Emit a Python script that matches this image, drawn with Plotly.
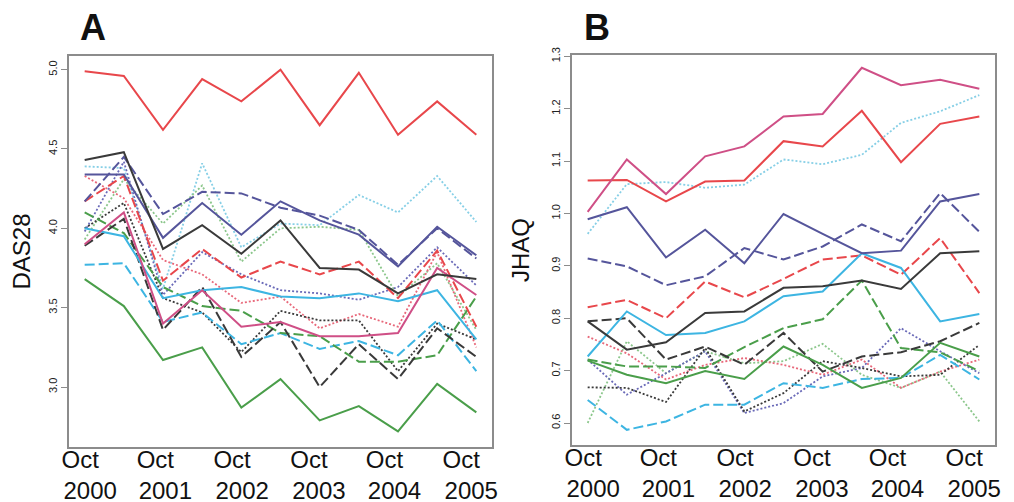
import plotly.graph_objects as go

# ---------------- data ----------------
time_points = list(range(11))  # half-year visits, Oct 2000 .. Oct 2005
tick_positions = [0.14, 2.06, 4.02, 5.98, 7.91, 9.87]
tick_labels = ["Oct&nbsp;&nbsp;&nbsp;<br>2000", "Oct&nbsp;&nbsp;&nbsp;<br>2001", "Oct&nbsp;&nbsp;&nbsp;<br>2002",
               "Oct&nbsp;&nbsp;&nbsp;<br>2003", "Oct&nbsp;&nbsp;&nbsp;<br>2004", "Oct&nbsp;&nbsp;&nbsp;<br>2005"]
das_ticks = [3.0, 3.5, 4.0, 4.5, 5.0]
jhaq_ticks = [0.6, 0.7, 0.8, 0.9, 1.0, 1.1, 1.2, 1.3]

# Panel A: DAS28
das_red_solid = [4.99, 4.96, 4.62, 4.94, 4.80, 5.00, 4.65, 4.98, 4.59, 4.80, 4.59]
das_green_solid = [3.68, 3.51, 3.17, 3.25, 2.87, 3.05, 2.79, 2.88, 2.72, 3.02, 2.84]
das_black_solid = [4.43, 4.48, 3.87, 4.02, 3.84, 4.05, 3.75, 3.74, 3.59, 3.71, 3.68]
das_navy_solid = [4.34, 4.34, 3.94, 4.16, 3.96, 4.17, 4.05, 3.96, 3.76, 4.01, 3.83]
das_navy_dash = [4.17, 4.45, 4.09, 4.23, 4.22, 4.13, 4.08, 3.99, 3.77, 4.00, 3.81]
das_lcyan_dot = [4.39, 4.38, 3.62, 4.41, 3.88, 4.03, 4.02, 4.21, 4.10, 4.33, 4.04]
das_lgreen_dot = [3.93, 4.31, 4.03, 4.27, 3.79, 4.00, 4.01, 3.99, 3.57, 3.78, 3.36]
das_red_dot = [4.33, 4.19, 3.80, 3.71, 3.53, 3.57, 3.37, 3.46, 3.38, 3.85, 3.25]
das_red_dash = [4.17, 4.33, 3.67, 3.87, 3.69, 3.79, 3.71, 3.79, 3.56, 3.86, 3.38]
das_cyan_solid = [4.00, 3.95, 3.56, 3.61, 3.63, 3.57, 3.56, 3.59, 3.54, 3.61, 3.30]
das_magenta_solid = [3.90, 4.10, 3.40, 3.61, 3.38, 3.41, 3.32, 3.32, 3.34, 3.75, 3.58]
das_black_dash = [3.89, 4.06, 3.36, 3.63, 3.19, 3.41, 3.00, 3.27, 3.05, 3.37, 3.19]
das_green_dash = [4.10, 3.97, 3.63, 3.51, 3.48, 3.34, 3.32, 3.16, 3.16, 3.20, 3.57]
das_cyan_dash = [3.77, 3.78, 3.41, 3.47, 3.27, 3.34, 3.24, 3.29, 3.20, 3.42, 3.10]
das_black_dot = [4.00, 4.16, 3.56, 3.47, 3.22, 3.48, 3.42, 3.42, 3.10, 3.40, 3.30]
das_navy_dot = [3.98, 4.42, 3.58, 3.85, 3.71, 3.61, 3.59, 3.55, 3.63, 3.88, 3.64]

# Panel B: JHAQ
jhaq_magenta_solid = [1.003, 1.103, 1.037, 1.109, 1.128, 1.185, 1.190, 1.278, 1.245, 1.255, 1.238]
jhaq_red_solid = [1.063, 1.064, 1.023, 1.061, 1.063, 1.138, 1.128, 1.196, 1.098, 1.171, 1.185]
jhaq_lcyan_dot = [0.961, 1.056, 1.060, 1.049, 1.055, 1.103, 1.094, 1.112, 1.173, 1.195, 1.226]
jhaq_navy_solid = [0.989, 1.012, 0.916, 0.969, 0.905, 0.999, 0.961, 0.924, 0.929, 1.023, 1.037]
jhaq_navy_dash = [0.914, 0.899, 0.863, 0.880, 0.934, 0.912, 0.937, 0.979, 0.947, 1.039, 0.965]
jhaq_red_dash = [0.821, 0.835, 0.800, 0.870, 0.840, 0.875, 0.912, 0.920, 0.883, 0.953, 0.848]
jhaq_black_solid = [0.794, 0.740, 0.754, 0.810, 0.813, 0.858, 0.861, 0.872, 0.856, 0.924, 0.928]
jhaq_cyan_solid = [0.727, 0.813, 0.768, 0.772, 0.794, 0.842, 0.851, 0.924, 0.896, 0.794, 0.808]
jhaq_black_dash = [0.794, 0.800, 0.721, 0.746, 0.711, 0.772, 0.698, 0.727, 0.735, 0.756, 0.791]
jhaq_green_dash = [0.721, 0.708, 0.708, 0.705, 0.745, 0.781, 0.798, 0.872, 0.743, 0.735, 0.699]
jhaq_green_solid = [0.719, 0.692, 0.676, 0.699, 0.684, 0.746, 0.711, 0.667, 0.686, 0.753, 0.727]
jhaq_cyan_dash = [0.644, 0.587, 0.603, 0.635, 0.635, 0.676, 0.667, 0.684, 0.686, 0.730, 0.683]
jhaq_black_dot = [0.668, 0.667, 0.640, 0.743, 0.622, 0.657, 0.718, 0.705, 0.689, 0.692, 0.749]
jhaq_navy_dot = [0.721, 0.654, 0.695, 0.737, 0.619, 0.638, 0.689, 0.705, 0.781, 0.737, 0.695]
jhaq_red_dot = [0.765, 0.733, 0.683, 0.711, 0.724, 0.711, 0.692, 0.721, 0.667, 0.698, 0.721]
jhaq_lgreen_dot = [0.600, 0.756, 0.695, 0.737, 0.714, 0.718, 0.751, 0.692, 0.667, 0.698, 0.603]

# ---------------- styles ----------------
RED, MAGENTA, NAVY, BLACK = "#e8474b", "#cf4f86", "#55559b", "#3a3a3a"
CYAN, LCYAN, GREEN, LGREEN = "#3db5e2", "#86cfe6", "#4a9e4a", "#8cc78c"
NAVYDOT, REDDOT = "#6a6ab8", "#e8687a"
SOLID, DASH, DOT = "solid", "10px,4px", "2px,2px"

panel_a = [
    (das_red_solid, RED, SOLID), (das_green_solid, GREEN, SOLID),
    (das_lcyan_dot, LCYAN, DOT), (das_lgreen_dot, LGREEN, DOT),
    (das_red_dot, REDDOT, DOT), (das_navy_dot, NAVYDOT, DOT),
    (das_black_dot, BLACK, DOT), (das_cyan_dash, CYAN, DASH),
    (das_green_dash, GREEN, DASH), (das_black_dash, BLACK, DASH),
    (das_red_dash, RED, DASH), (das_navy_dash, NAVY, DASH),
    (das_cyan_solid, CYAN, SOLID), (das_magenta_solid, MAGENTA, SOLID),
    (das_navy_solid, NAVY, SOLID), (das_black_solid, BLACK, SOLID),
]
panel_b = [
    (jhaq_lgreen_dot, LGREEN, DOT), (jhaq_lcyan_dot, LCYAN, DOT),
    (jhaq_red_dot, REDDOT, DOT), (jhaq_navy_dot, NAVYDOT, DOT),
    (jhaq_black_dot, BLACK, DOT), (jhaq_cyan_dash, CYAN, DASH),
    (jhaq_green_dash, GREEN, DASH), (jhaq_black_dash, BLACK, DASH),
    (jhaq_red_dash, RED, DASH), (jhaq_navy_dash, NAVY, DASH),
    (jhaq_green_solid, GREEN, SOLID), (jhaq_cyan_solid, CYAN, SOLID),
    (jhaq_black_solid, BLACK, SOLID), (jhaq_navy_solid, NAVY, SOLID),
    (jhaq_red_solid, RED, SOLID), (jhaq_magenta_solid, MAGENTA, SOLID),
]

fig = go.Figure()
for vals, col, dash in panel_a:
    fig.add_trace(go.Scatter(x=time_points, y=vals, mode="lines", xaxis="x", yaxis="y",
                             line=dict(color=col, dash=dash, width=1.8 if dash == DOT else 2),
                             showlegend=False, hoverinfo="skip"))
for vals, col, dash in panel_b:
    fig.add_trace(go.Scatter(x=time_points, y=vals, mode="lines", xaxis="x2", yaxis="y2",
                             line=dict(color=col, dash=dash, width=1.8 if dash == DOT else 2),
                             showlegend=False, hoverinfo="skip"))

FRAME = "#8c8c8c"
FONT = "Liberation Sans, Arial, sans-serif"
W, H = 1014, 502

xcommon = dict(range=[-0.4, 10.4], showgrid=False, zeroline=False, showline=True, mirror=True,
               linecolor=FRAME, linewidth=1.5, ticks="", tickvals=tick_positions, ticktext=tick_labels,
               tickfont=dict(size=24, color="#111", family=FONT), tickangle=0, automargin=False,
               ticklabelstandoff=-10)
ycommon = dict(showgrid=False, zeroline=False, showline=True, mirror=True, linecolor=FRAME,
               linewidth=1.5, ticks="outside", ticklen=6, tickwidth=1.2, tickcolor=FRAME,
               tickangle=-90, tickfont=dict(size=11, color="#222", family=FONT),
               tickformat=".1f", automargin=False)

fig.update_layout(
    width=W, height=H, margin=dict(l=0, r=0, t=0, b=0),
    paper_bgcolor="white", plot_bgcolor="white", font=dict(family=FONT),
    xaxis=dict(domain=[61 / W, 484 / W], anchor="y", **xcommon),
    yaxis=dict(domain=[1 - 439 / H, 1 - 48 / H], anchor="x", range=[2.622, 5.086],
               tickvals=das_ticks,
               title=dict(text="DAS28", font=dict(size=24, color="#111", family=FONT), standoff=14),
               **ycommon),
    xaxis2=dict(domain=[564 / W, 987 / W], anchor="y2", **xcommon),
    yaxis2=dict(domain=[1 - 437 / H, 1 - 47 / H], anchor="x2", range=[0.558, 1.3025],
                tickvals=jhaq_ticks,
                title=dict(text="JHAQ", font=dict(size=24, color="#111", family=FONT), standoff=13),
                **ycommon),
    annotations=[
        dict(text="<b>A</b>", x=85 / W, y=1 - 20 / H, xref="paper", yref="paper",
             xanchor="center", yanchor="middle", showarrow=False,
             font=dict(size=36, color="#111", family=FONT)),
        dict(text="<b>B</b>", x=589 / W, y=1 - 20 / H, xref="paper", yref="paper",
             xanchor="center", yanchor="middle", showarrow=False,
             font=dict(size=36, color="#111", family=FONT)),
    ],
)

fig.write_html("out.html")
